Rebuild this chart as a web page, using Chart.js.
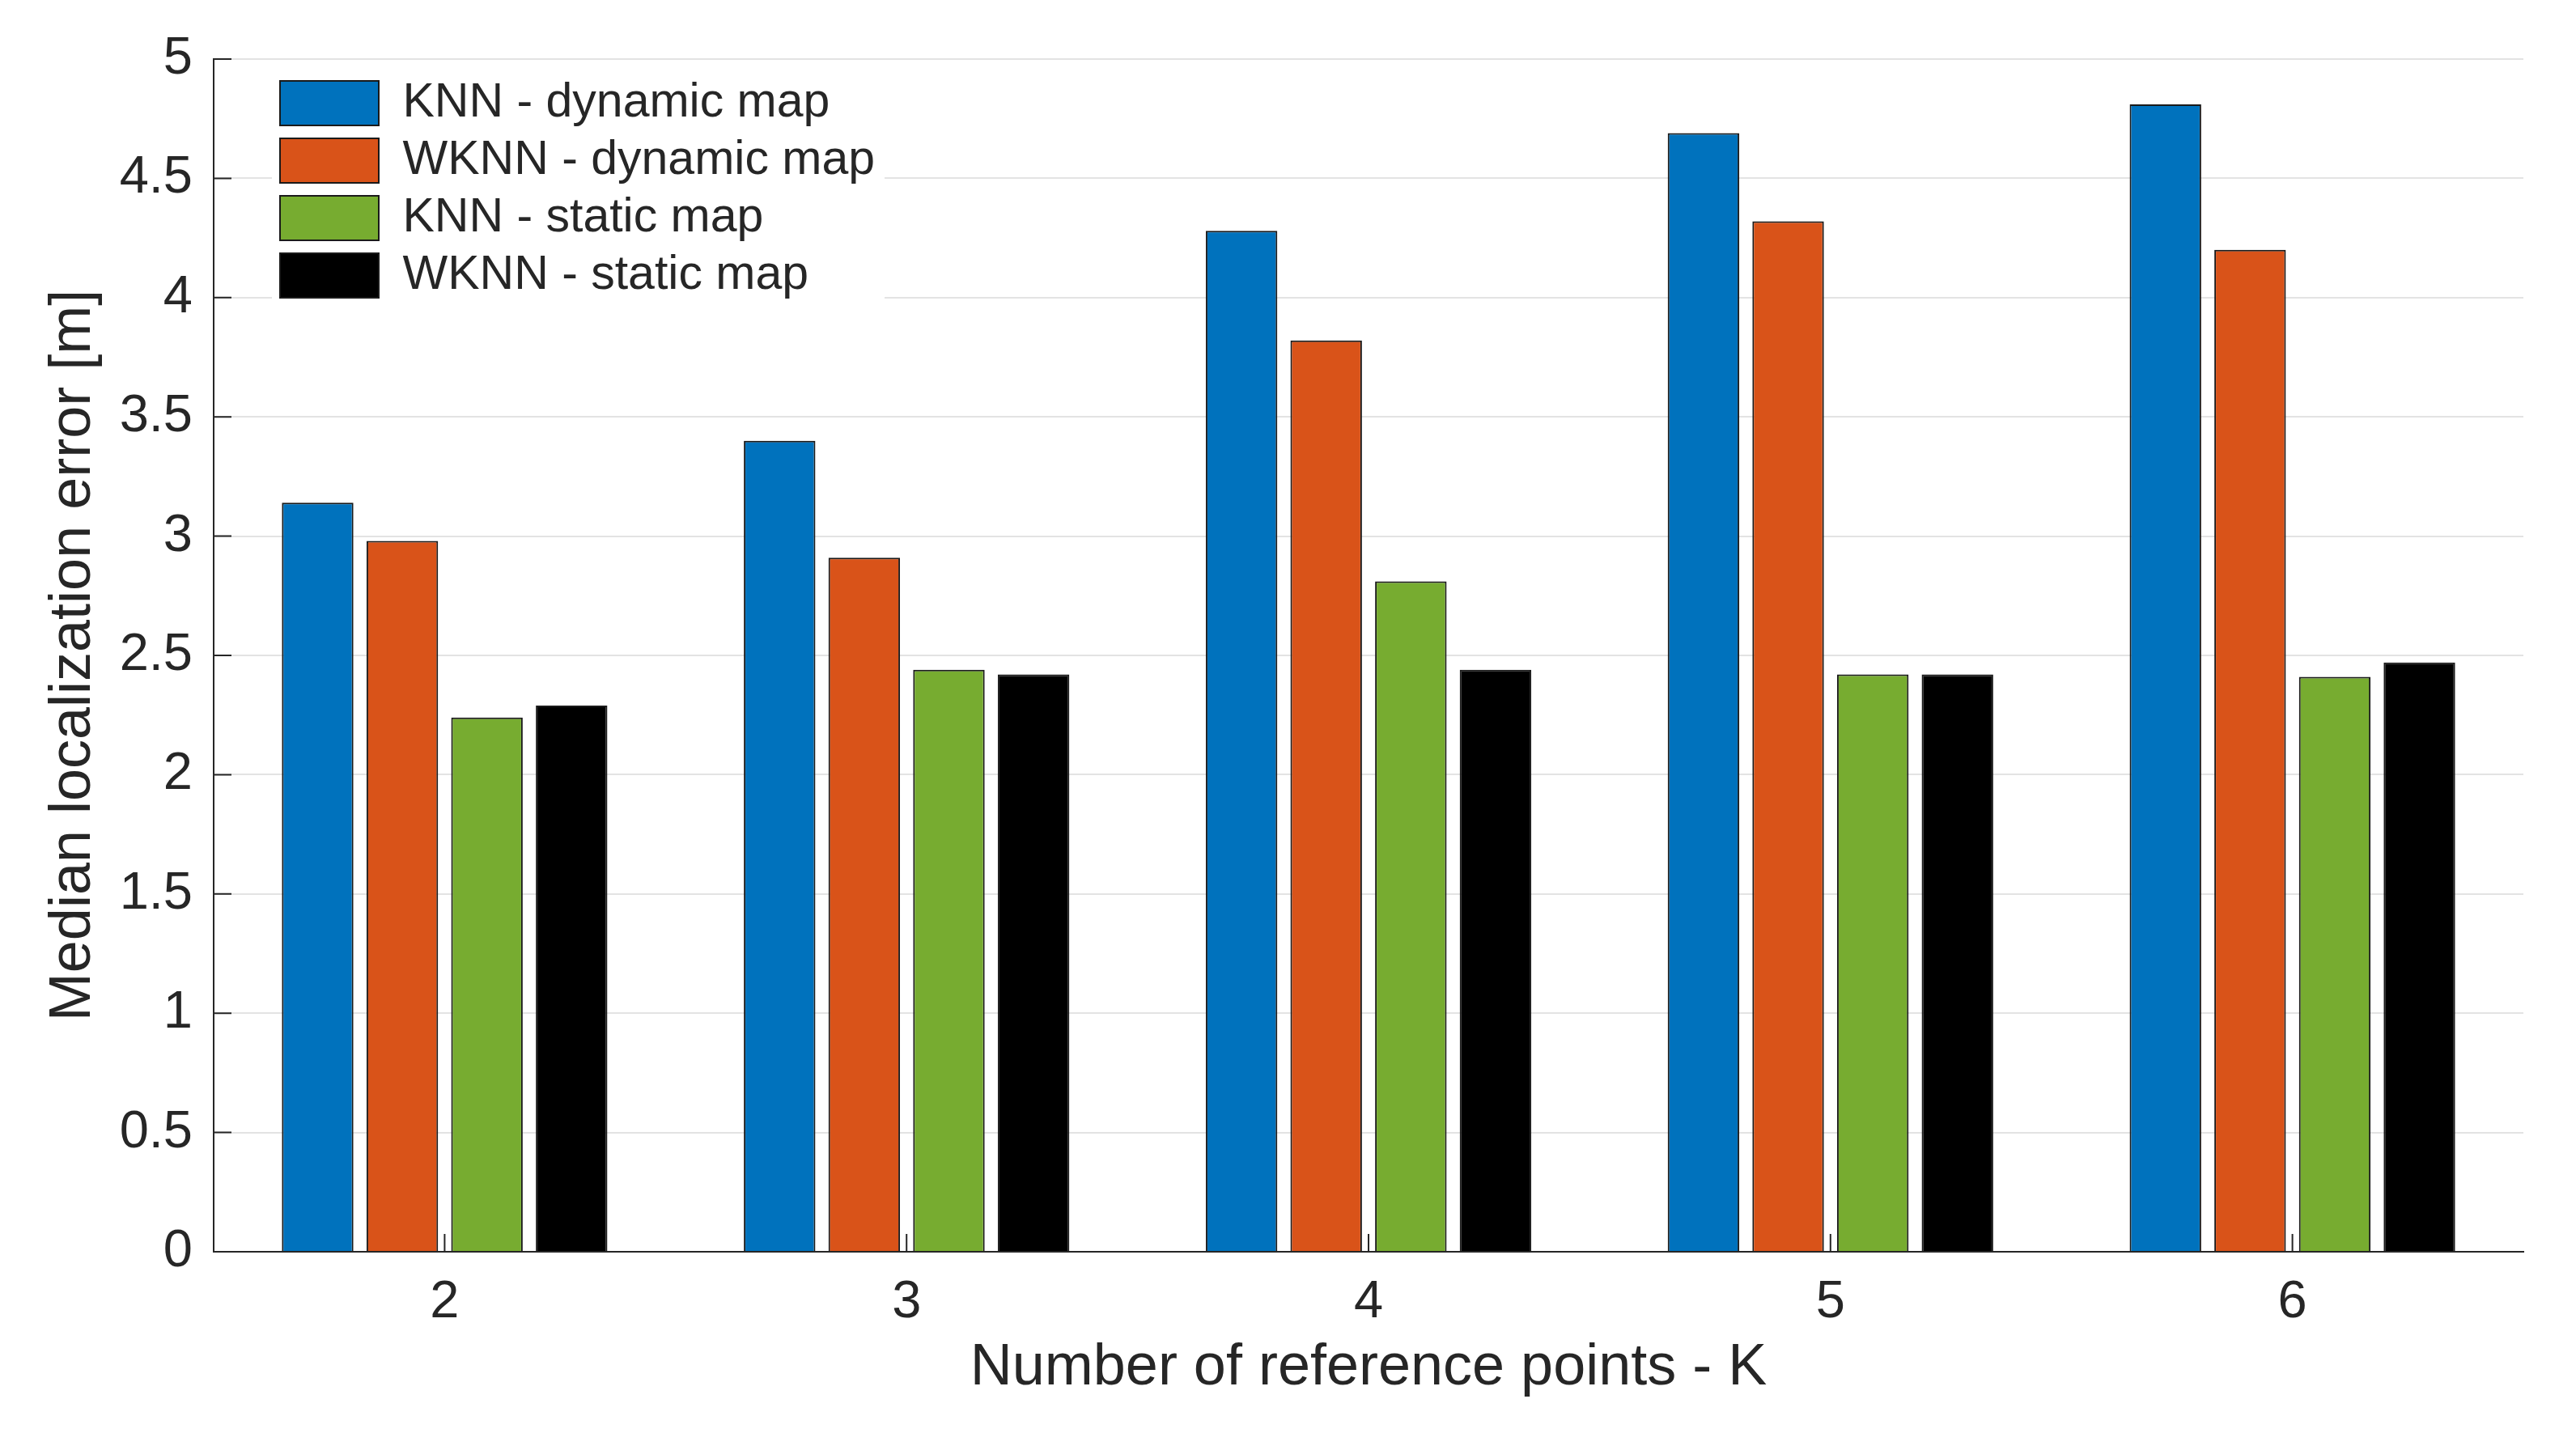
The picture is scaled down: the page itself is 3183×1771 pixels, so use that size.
<!DOCTYPE html>
<html>
<head>
<meta charset="utf-8">
<script src="https://cdn.jsdelivr.net/npm/chart.js@4.4.1/dist/chart.umd.min.js"></script>
<style>
  body { margin: 0; background: #fff; }
  canvas { display: block; }
</style>
</head>
<body>
<canvas id="barChart" width="3183" height="1771"></canvas>
<script>
// values
const categories = ['2', '3', '4', '5', '6'];
const knnDynamic  = [3.14, 3.40, 4.28, 4.69, 4.81];
const wknnDynamic = [2.98, 2.91, 3.82, 4.32, 4.20];
const knnStatic   = [2.24, 2.44, 2.81, 2.42, 2.41];
const wknnStatic  = [2.29, 2.42, 2.44, 2.42, 2.47];
const seriesNames = ['KNN - dynamic map', 'WKNN - dynamic map', 'KNN - static map', 'WKNN - static map'];
const seriesColors = ['#0072BD', '#D95319', '#77AC30', '#000000'];

const FONT = "'Liberation Sans', Arial, sans-serif";
const TXT = '#262626';

// legend sits inside the plot with a white box, like matlab
const insideLegend = {
    id: 'insideLegend',
    afterLayout(chart) {
        const lg = chart.legend, area = chart.chartArea;
        lg.left = area.left + 70;
        lg.top = area.top + 13;
        lg.right = lg.left + lg.width;
        lg.bottom = lg.top + lg.height;
    },
    afterDatasetsDraw(chart) {
        const ctx = chart.ctx;
        const lg = chart.legend;
        const n = lg.legendItems.length;
        const w = Math.max(...lg.legendHitBoxes.map(b => b.width)) + 22;
        ctx.save();
        ctx.fillStyle = '#ffffff';
        ctx.fillRect(lg.left + 2, lg.top + 5, w, n * 71 + 2);
        ctx.restore();
        lg.draw();

        // inward tick marks
        const xs = chart.scales.x, ys = chart.scales.y;
        ctx.save();
        ctx.strokeStyle = TXT;
        ctx.lineWidth = 2;
        ctx.beginPath();
        ys.ticks.forEach((t, i) => {
            const y = ys.getPixelForTick(i);
            ctx.moveTo(ys.right, y);
            ctx.lineTo(ys.right + 22, y);
        });
        xs.ticks.forEach((t, i) => {
            const x = xs.getPixelForTick(i);
            ctx.moveTo(x, xs.top);
            ctx.lineTo(x, xs.top - 22);
        });
        ctx.stroke();
        ctx.restore();
    }
};

const seriesData = [knnDynamic, wknnDynamic, knnStatic, wknnStatic];

const CHART = document.getElementById('barChart');
let barChart = new Chart(CHART, {
    type: 'bar',
    data: {
        labels: categories,
        datasets: seriesData.map((d, i) => ({
            label: seriesNames[i],
            data: d,
            backgroundColor: seriesColors[i],
            borderColor: '#1a1a1a',
            borderWidth: 2,
            categoryPercentage: 0.733,
            barPercentage: 0.845
        }))
    },
    options: {
        responsive: false,
        animation: false,
        layout: { padding: { top: 73, right: 65, left: 0, bottom: 0 } },
        plugins: {
            legend: {
                position: 'chartArea',
                align: 'start',
                labels: {
                    boxWidth: 122,
                    boxHeight: 55,
                    padding: 12,
                    color: TXT,
                    font: { family: FONT, size: 59 }
                }
            },
            tooltip: { enabled: false }
        },
        scales: {
            x: {
                grid: { display: false, drawTicks: false },
                border: { display: true, color: TXT, width: 2 },
                ticks: { color: TXT, padding: 24, font: { family: FONT, size: 65 } },
                title: {
                    display: true,
                    text: 'Number of reference points - K',
                    color: TXT,
                    padding: { top: 0, bottom: 37 },
                    font: { family: FONT, size: 72 }
                },
                afterFit(scale) { scale.height = 224; }
            },
            y: {
                min: 0,
                max: 5,
                grid: { color: '#e3e3e3', lineWidth: 2, drawTicks: false },
                border: { display: true, color: TXT, width: 2 },
                ticks: {
                    stepSize: 0.5,
                    color: TXT,
                    padding: 26,
                    font: { family: FONT, size: 65 },
                    callback: v => String(Number(v.toFixed(1)))
                },
                title: {
                    display: true,
                    text: 'Median localization error [m]',
                    color: TXT,
                    padding: { top: 48, bottom: 0 },
                    font: { family: FONT, size: 72 }
                },
                afterFit(scale) { scale.width = 264; }
            }
        }
    },
    plugins: [insideLegend]
});
</script>
</body>
</html>
